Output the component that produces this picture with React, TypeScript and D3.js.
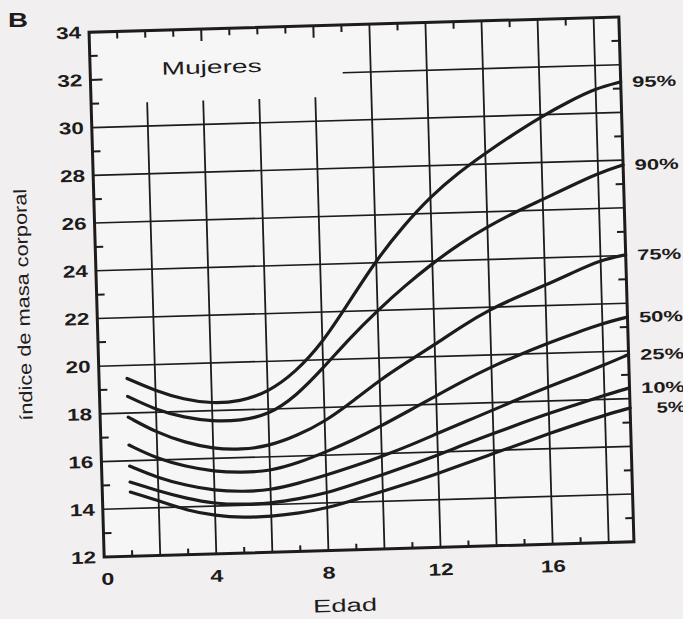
import React, { Component } from 'react';
import * as d3 from 'd3';

// edad (años) y percentiles de IMC
const ages = [1, 2, 3, 4, 5, 6, 7, 8, 9, 10, 11, 12, 13, 14, 15, 16, 17, 18, 18.9];
const p95 = [19.45, 18.9, 18.5, 18.3, 18.35, 18.7, 19.5, 20.7, 22.4, 24.1, 25.5, 26.7, 27.65, 28.45, 29.2, 29.9, 30.5, 31.04, 31.28];
const p90 = [18.7, 18.1, 17.75, 17.55, 17.55, 17.75, 18.5, 19.65, 20.9, 22.0, 23.0, 23.9, 24.7, 25.37, 25.95, 26.45, 26.97, 27.48, 27.8];
const p75 = [17.83, 17.15, 16.7, 16.4, 16.33, 16.45, 16.85, 17.4, 18.2, 19.08, 19.8, 20.5, 21.25, 21.9, 22.4, 22.85, 23.35, 23.84, 24.03];
const p50 = [16.66, 16.05, 15.7, 15.45, 15.37, 15.4, 15.7, 16.13, 16.6, 17.15, 17.75, 18.35, 18.95, 19.5, 19.97, 20.41, 20.8, 21.18, 21.42];
const p25 = [15.78, 15.25, 14.9, 14.65, 14.57, 14.6, 14.85, 15.16, 15.5, 15.88, 16.3, 16.77, 17.23, 17.68, 18.15, 18.59, 19.0, 19.43, 19.85];
const p10 = [15.11, 14.7, 14.35, 14.1, 14.03, 14.05, 14.2, 14.41, 14.75, 15.11, 15.48, 15.86, 16.3, 16.7, 17.1, 17.48, 17.82, 18.17, 18.45];
const p5 = [14.69, 14.3, 13.85, 13.6, 13.48, 13.5, 13.6, 13.78, 14.1, 14.42, 14.75, 15.1, 15.5, 15.87, 16.25, 16.64, 17.0, 17.34, 17.61];
const seriesNames = ['95%', '90%', '75%', '50%', '25%', '10%', '5%'];
const seriesValues = [p95, p90, p75, p50, p25, p10, p5];

const yTickLabels = [12, 14, 16, 18, 20, 22, 24, 26, 28, 30, 32, 34];
const xTickLabels = [0, 4, 8, 12, 16];
const hGrid = [14, 16, 18, 20, 22, 24, 26, 28, 30];
const vGridShort = [2, 4, 6, 8];
const vGridFull = [10, 12, 14, 16, 18];

class App extends Component {
  componentDidMount() {
    this.drawChart();
  }

  drawChart() {
    var svg = d3.select('.bmi-svg');
    var left = 96.5, right = 626.5, top = 24.5, bottom = 549.5;
    var ink = '#1d1b1b';
    var font = '"Liberation Sans", Arial, sans-serif';

    const x = d3.scaleLinear().domain([0, 18.9]).range([left, right]);
    const y = d3.scaleLinear().domain([12, 34]).range([bottom, top]);

    svg.append('rect').attr('width', 683).attr('height', 619).attr('fill', '#f1efef');

    svg.append('text').attr('x', 8).attr('y', 27)
      .attr('font-family', font).attr('font-weight', 'bold').attr('font-size', 21)
      .attr('textLength', 20).attr('lengthAdjust', 'spacingAndGlyphs')
      .attr('fill', ink).text('B');

    // the scan is slightly rotated
    var g = svg.append('g').attr('transform', 'rotate(-1.65, 361.5, 287)');

    g.append('rect').attr('x', left).attr('y', top).attr('width', right - left).attr('height', bottom - top)
      .attr('fill', '#f7f6f6');

    // grid
    g.selectAll('.hgrid').data(hGrid).join('line').attr('class', 'hgrid')
      .attr('x1', left).attr('x2', right)
      .attr('y1', d => y(d)).attr('y2', d => y(d))
      .attr('stroke', ink).attr('stroke-width', 1.6);
    g.append('line').attr('x1', x(9)).attr('x2', right).attr('y1', y(32)).attr('y2', y(32))
      .attr('stroke', ink).attr('stroke-width', 1.6);
    g.selectAll('.vshort').data(vGridShort).join('line').attr('class', 'vshort')
      .attr('x1', d => x(d)).attr('x2', d => x(d))
      .attr('y1', bottom).attr('y2', y(31))
      .attr('stroke', ink).attr('stroke-width', 1.8);
    g.selectAll('.vfull').data(vGridFull).join('line').attr('class', 'vfull')
      .attr('x1', d => x(d)).attr('x2', d => x(d))
      .attr('y1', bottom).attr('y2', top)
      .attr('stroke', ink).attr('stroke-width', 1.8);

    // ticks
    var oddY = d3.range(13, 34, 2);
    g.selectAll('.ltick').data(oddY.concat([32])).join('line').attr('class', 'ltick')
      .attr('x1', left).attr('x2', d => left + (d === 32 ? 12 : 8))
      .attr('y1', d => y(d)).attr('y2', d => y(d))
      .attr('stroke', ink).attr('stroke-width', 2);
    g.selectAll('.rtick').data(oddY).join('line').attr('class', 'rtick')
      .attr('x1', right).attr('x2', right - 8)
      .attr('y1', d => y(d)).attr('y2', d => y(d))
      .attr('stroke', ink).attr('stroke-width', 2);
    g.selectAll('.btick').data(d3.range(1, 18, 2)).join('line').attr('class', 'btick')
      .attr('x1', d => x(d)).attr('x2', d => x(d))
      .attr('y1', bottom).attr('y2', bottom - 6)
      .attr('stroke', ink).attr('stroke-width', 2);
    var topTicks = d3.range(1, 10).concat([11, 13, 15, 17]);
    g.selectAll('.ttick').data(topTicks).join('line').attr('class', 'ttick')
      .attr('x1', d => x(d)).attr('x2', d => x(d))
      .attr('y1', top).attr('y2', d => top + (d === 4 || d === 8 ? 12 : 7))
      .attr('stroke', ink).attr('stroke-width', 2);

    // frame
    g.append('rect').attr('x', left).attr('y', top).attr('width', right - left).attr('height', bottom - top)
      .attr('fill', 'none').attr('stroke', ink).attr('stroke-width', 3);

    // curves
    const line = d3.line().x(d => x(d[0])).y(d => y(d[1])).curve(d3.curveBasis);
    g.selectAll('.curve').data(seriesValues).join('path').attr('class', 'curve')
      .attr('d', vals => line(ages.map((a, i) => [a, vals[i]])))
      .attr('fill', 'none').attr('stroke', ink).attr('stroke-width', 3.2)
      .attr('stroke-linecap', 'round');

    g.selectAll('.plabel').data(seriesNames).join('text').attr('class', 'plabel')
      .attr('x', 682).attr('y', (d, i) => y(seriesValues[i][ages.length - 1]) + 5.5)
      .attr('text-anchor', 'end')
      .attr('font-family', font).attr('font-weight', 'bold').attr('font-size', 15)
      .attr('textLength', d => (d.length > 2 ? 44 : 29)).attr('lengthAdjust', 'spacingAndGlyphs')
      .attr('fill', ink).text(d => d);

    // axis labels
    g.selectAll('.ylab').data(yTickLabels).join('text').attr('class', 'ylab')
      .attr('x', left - 8).attr('y', d => y(d) + 6)
      .attr('text-anchor', 'end')
      .attr('font-family', font).attr('font-weight', 'bold').attr('font-size', 17)
      .attr('textLength', 25).attr('lengthAdjust', 'spacingAndGlyphs')
      .attr('fill', ink).text(d => d);
    g.selectAll('.xlab').data(xTickLabels).join('text').attr('class', 'xlab')
      .attr('x', d => x(d) + (d === 0 ? 3 : 0)).attr('y', bottom + 28)
      .attr('text-anchor', 'middle')
      .attr('font-family', font).attr('font-weight', 'bold').attr('font-size', 17)
      .attr('textLength', d => (d < 10 ? 13 : 25)).attr('lengthAdjust', 'spacingAndGlyphs')
      .attr('fill', ink).text(d => d);

    g.append('text').attr('x', 168).attr('y', 69)
      .attr('font-family', font).attr('font-size', 18)
      .attr('textLength', 100).attr('lengthAdjust', 'spacingAndGlyphs')
      .attr('fill', ink).text('Mujeres');

    g.append('text').attr('x', 336).attr('y', 611).attr('text-anchor', 'middle')
      .attr('font-family', font).attr('font-size', 18)
      .attr('textLength', 64).attr('lengthAdjust', 'spacingAndGlyphs')
      .attr('fill', ink).text('Edad');

    g.append('text').attr('transform', 'translate(29, 295) rotate(-90)').attr('text-anchor', 'middle')
      .attr('font-family', font).attr('font-size', 18)
      .attr('textLength', 232).attr('lengthAdjust', 'spacingAndGlyphs')
      .attr('fill', ink).text('índice de masa corporal');
  }

  render() {
    return (
      <svg className='bmi-svg' width={683} height={619}
        style={{ position: 'absolute', left: 0, top: 0, display: 'block' }}>
      </svg>
    );
  }
}

export default App;
